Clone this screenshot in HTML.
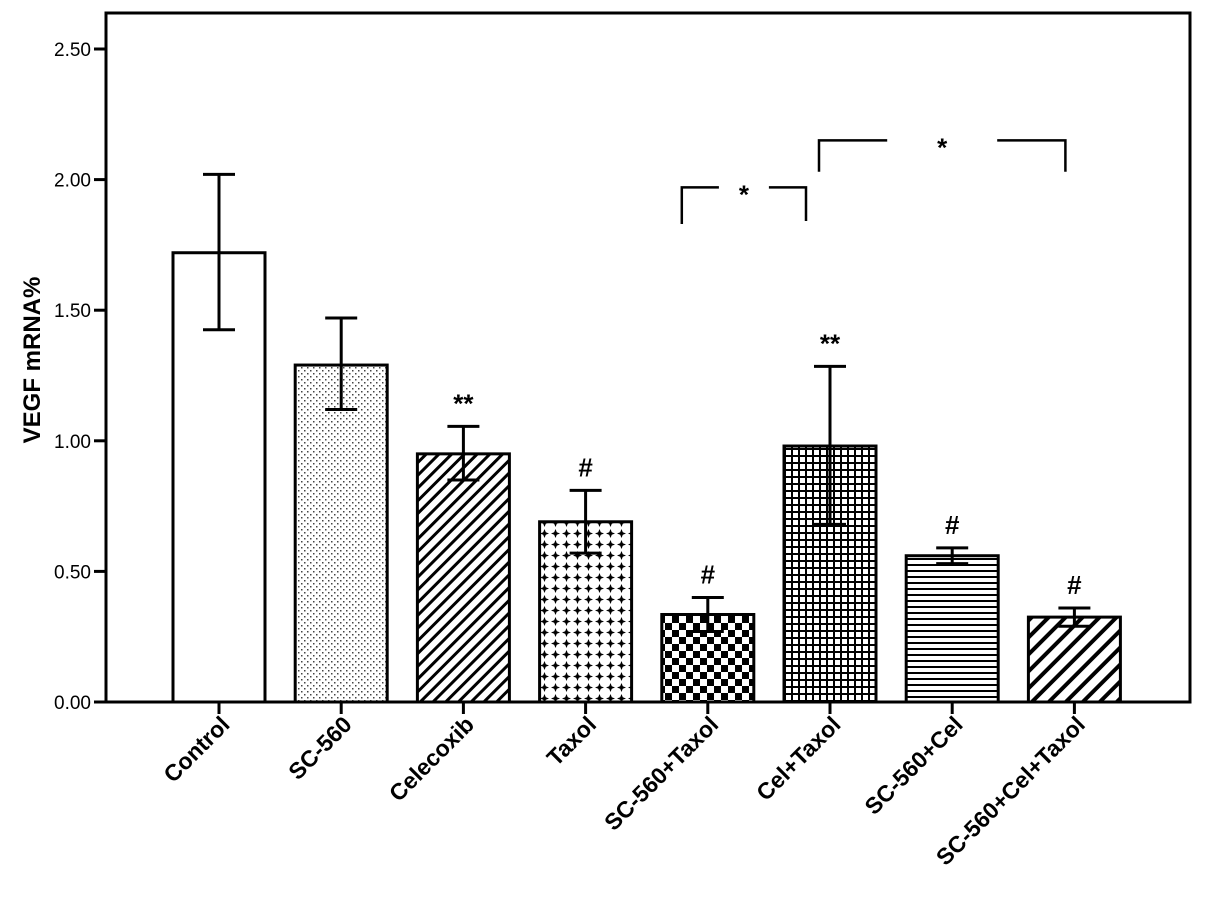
<!DOCTYPE html>
<html><head><meta charset="utf-8"><style>
body{margin:0;background:#fff}
svg{display:block;font-family:"Liberation Sans",Arial,sans-serif}
</style></head><body>
<svg id="c" width="1205" height="902" viewBox="0 0 1205 902">
<defs>
<pattern id="p0" width="8" height="8" patternUnits="userSpaceOnUse"><rect width="8" height="8" fill="#fff"/></pattern>
<pattern id="p1" width="6" height="6" patternUnits="userSpaceOnUse"><rect width="6" height="6" fill="#fff"/><rect x="1" y="1" width="1.5" height="1.5" fill="#444"/><rect x="4" y="4" width="1.5" height="1.5" fill="#444"/></pattern>
<pattern id="p2" width="9" height="9" patternUnits="userSpaceOnUse" patternTransform="rotate(45)"><rect width="9" height="9" fill="#fff"/><rect width="3" height="9" fill="#000"/></pattern>
<pattern id="p3" width="11" height="11" patternUnits="userSpaceOnUse"><rect width="11" height="11" fill="#fff"/><path d="M5.5 1 L6.8 4.2 L10 5.5 L6.8 6.8 L5.5 10 L4.2 6.8 L1 5.5 L4.2 4.2Z" fill="#000"/></pattern>
<pattern id="p4" width="14" height="14" patternUnits="userSpaceOnUse"><rect width="14" height="14" fill="#fff"/><rect width="7" height="7" fill="#000"/><rect x="7" y="7" width="7" height="7" fill="#000"/></pattern>
<pattern id="p5" width="7" height="7" patternUnits="userSpaceOnUse"><rect width="7" height="7" fill="#fff"/><rect width="7" height="2" fill="#000"/><rect width="2" height="7" fill="#000"/></pattern>
<pattern id="p6" width="6" height="6" patternUnits="userSpaceOnUse"><rect width="6" height="6" fill="#fff"/><rect width="6" height="2" fill="#000"/></pattern>
<pattern id="p7" width="12" height="12" patternUnits="userSpaceOnUse" patternTransform="rotate(45)"><rect width="12" height="12" fill="#fff"/><rect width="4" height="12" fill="#000"/></pattern>
</defs>
<g id="plot"></g>
</svg>
<script>
const categories=["Control","SC-560","Celecoxib","Taxol","SC-560+Taxol","Cel+Taxol","SC-560+Cel","SC-560+Cel+Taxol"];
const values=[1.72,1.29,0.95,0.69,0.335,0.98,0.56,0.325];
const errHigh=[2.02,1.47,1.055,0.81,0.40,1.285,0.59,0.36];
const errLow=[1.425,1.12,0.85,0.57,0.27,0.68,0.53,0.29];
const marks=["","","**","#","#","**","#","#"];
const yTicks=[0,0.5,1,1.5,2,2.5];
const yTickLabels=["0.00","0.50","1.00","1.50","2.00","2.50"];
const bracketFrom=[4,5];
const bracketTo=[5,7];
const bracketLegLow=[1.83,2.03];
const bracketTop=[1.97,2.15];
const NS="http://www.w3.org/2000/svg";
const g=document.getElementById('plot');
const y=v=>702-v*261.2;
const x=i=>219+i*122.2;
const bw=92;
function mk(t,a,p){const e=document.createElementNS(NS,t);for(const k in a)e.setAttribute(k,a[k]);(p||g).appendChild(e);return e;}
const frame=mk('rect',{x:106,y:13,width:1084,height:689,fill:'none',stroke:'#000','stroke-width':3});


yTicks.forEach((v,i)=>{
  const t=mk('line',{x1:94,x2:106,y1:y(v),y2:y(v),stroke:'#000','stroke-width':3});
  
  
  const l=mk('text',{x:91,y:y(v)+7,'text-anchor':'end','font-size':19});
  l.textContent=yTickLabels[i];
  
  
});
const yt=mk('text',{x:0,y:0,transform:'translate(40,360) rotate(-90)','text-anchor':'middle','font-size':24,'font-weight':'bold'});
yt.textContent='VEGF mRNA%';


categories.forEach((c,i)=>{
  const cx=x(i);
  const b=mk('rect',{x:cx-bw/2,y:y(values[i]),width:bw,height:y(0)-y(values[i]),fill:'url(#p'+i+')',stroke:'#000','stroke-width':3});
  
  
  const e=mk('path',{d:`M${cx} ${y(errLow[i])}V${y(errHigh[i])}M${cx-16} ${y(errHigh[i])}H${cx+16}M${cx-16} ${y(errLow[i])}H${cx+16}`,stroke:'#000','stroke-width':3,fill:'none'});
  
  
  const t=mk('line',{x1:cx,x2:cx,y1:702,y2:714,stroke:'#000','stroke-width':3});
  
  
  const l=mk('text',{x:0,y:0,transform:`translate(${cx+12},726) rotate(-45)`,'text-anchor':'end','font-size':23,'font-weight':'bold'});
  l.textContent=c;
  
  
  if(marks[i]){
    const m=mk('text',{x:cx,y:y(errHigh[i])-14,'text-anchor':'middle','font-size':26,'font-weight':'bold'});
    m.textContent=marks[i];
    
    
  }
});
bracketFrom.forEach((f,k)=>{
  const wide=bracketTo[k]-f>1;
  const x1=x(f)-(wide?11:26),x2=x(bracketTo[k])-(wide?9:24),yl=y(bracketLegLow[k]),yt2=y(bracketTop[k]),mid=(x1+x2)/2,gap=wide?55:25;
  const p=mk('path',{d:`M${x1} ${yl}V${yt2}H${mid-gap}M${mid+gap} ${yt2}H${x2}V${wide?yl:yl-3}`,stroke:'#000','stroke-width':2.5,fill:'none'});
  
  
  const s=mk('text',{x:mid,y:yt2+16,'text-anchor':'middle','font-size':26,'font-weight':'bold'});
  s.textContent='*';
  
  
});
</script>
</body></html>
